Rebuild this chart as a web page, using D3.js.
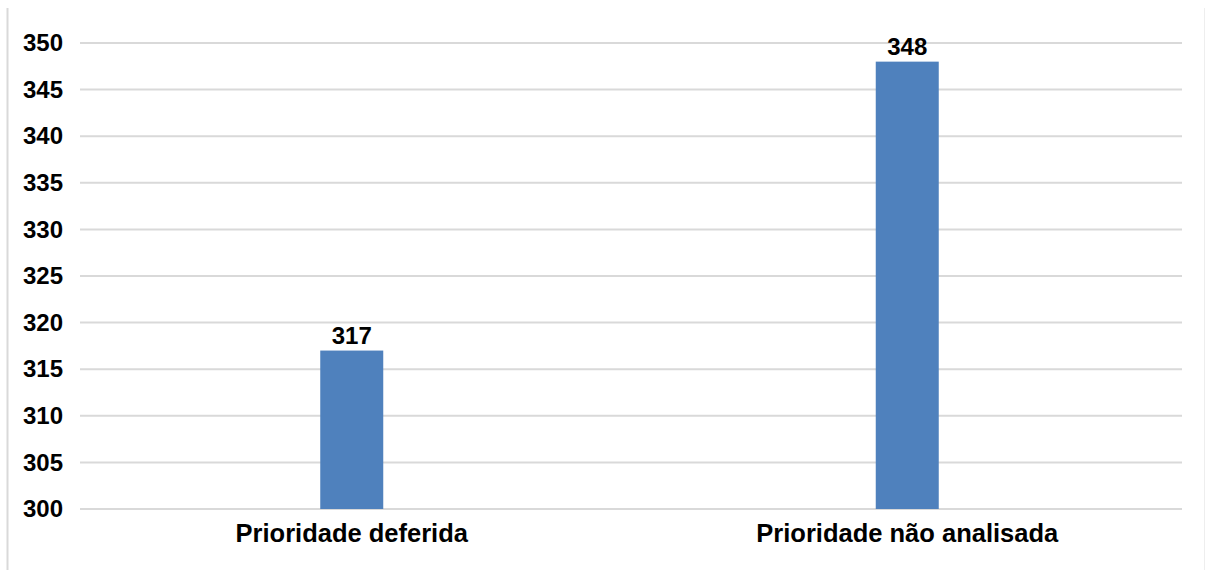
<!DOCTYPE html>
<html>
<head>
<meta charset="utf-8">
<script src="https://cdn.jsdelivr.net/npm/d3@7"></script>
<style>
  html, body { margin: 0; padding: 0; background: #fff; }
</style>
</head>
<body>
<script>
// chart data
var categories = ["Prioridade deferida", "Prioridade não analisada"];
var values = [317, 348];
var yTicks = [300, 305, 310, 315, 320, 325, 330, 335, 340, 345, 350];

var width = 1205, height = 570;
var margin = {left: 80, right: 23, top: 43, bottom: 61};
var font = "Liberation Sans, Arial, sans-serif";

var svg = d3.select("body").append("svg")
  .attr("width", width).attr("height", height)
  .attr("viewBox", "0,0," + width + "," + height);

// frame lines at the edges
svg.append("line").attr("x1", 7.5).attr("x2", 7.5).attr("y1", 8).attr("y2", height)
  .attr("stroke", "#d9d9d9").attr("stroke-width", 2);
svg.append("line").attr("x1", 1204.5).attr("x2", 1204.5).attr("y1", 8).attr("y2", height)
  .attr("stroke", "#eeeeee").attr("stroke-width", 1);

var x = d3.scaleBand().domain(categories).range([74, 1185]);
var y = d3.scaleLinear().domain([300, 350])
  .range([height - margin.bottom, margin.top]);

// gridlines
svg.selectAll("line.grid").data(yTicks).enter().append("line")
  .attr("class", "grid")
  .attr("x1", margin.left).attr("x2", width - margin.right)
  .attr("y1", d => y(d)).attr("y2", d => y(d))
  .attr("stroke", "#d9d9d9").attr("stroke-width", 2);

// y tick labels
var yAxis = svg.append("g").attr("transform", "translate(" + 63 + ",0)")
  .call(d3.axisLeft(y).tickValues(yTicks).tickSize(0).tickPadding(0));
yAxis.select(".domain").remove();
yAxis.selectAll("text")
  .attr("font-family", font)
  .attr("font-size", "24px").attr("font-weight", "bold").attr("fill", "#000");

// bars
var barW = 63;
svg.selectAll("rect.bar").data(values).enter().append("rect")
  .attr("class", "bar")
  .attr("x", (d, i) => x(categories[i]) + x.bandwidth() / 2 - barW / 2)
  .attr("width", barW)
  .attr("y", d => y(d))
  .attr("height", d => y(300) - y(d))
  .attr("fill", "#4f81bd");

// value labels
svg.selectAll("text.val").data(values).enter().append("text")
  .attr("class", "val")
  .text(d => d)
  .attr("x", (d, i) => x(categories[i]) + x.bandwidth() / 2)
  .attr("y", d => y(d) - 7)
  .attr("text-anchor", "middle")
  .attr("font-family", font)
  .attr("font-size", "24px").attr("font-weight", "bold").attr("fill", "#000");

// category labels
var xAxis = svg.append("g").attr("transform", "translate(0," + (height - margin.bottom) + ")")
  .call(d3.axisBottom(x).tickSize(0).tickPadding(15));
xAxis.select(".domain").remove();
xAxis.selectAll("text")
  .attr("font-family", font)
  .attr("font-size", "25.5px").attr("font-weight", "bold").attr("fill", "#000");
</script>
</body>
</html>
